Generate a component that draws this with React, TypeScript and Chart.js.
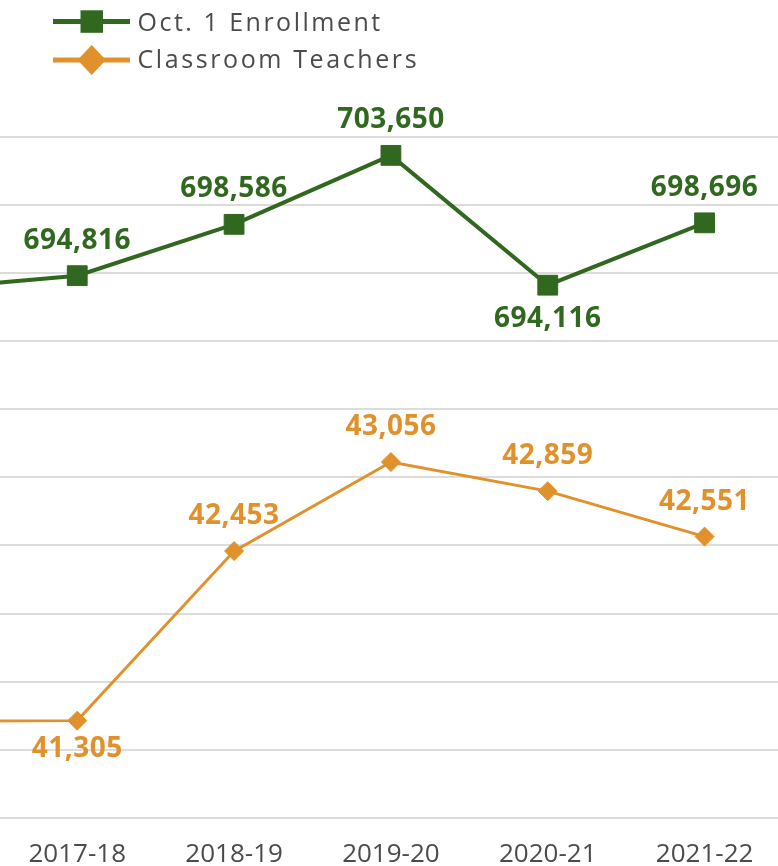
import React, { useEffect, useRef } from 'react';
import { Chart, registerables } from 'chart.js';

Chart.register(...registerables);

// ---- data ----
const categories = ['2016-17', '2017-18', '2018-19', '2019-20', '2020-21', '2021-22'];
const enrollment = [693800, 694816, 698586, 703650, 694116, 698696];
const teachers = [41300, 41305, 42453, 43056, 42859, 42551];
const enrollmentName = 'Oct. 1 Enrollment';
const teachersName = 'Classroom Teachers';
const enrollmentAxis = { min: 655000, max: 705000, step: 5000 };
const teachersAxis = { min: 40647, max: 45257 };
const enrollmentLabelSide = ['above', 'above', 'above', 'above', 'below', 'above'];
const teachersLabelSide = ['below', 'below', 'above', 'above', 'above', 'above'];

// ---- style ----
const GREEN = '#31681f';
const ORANGE = '#e0912b';
const TEXT = '#4b4b4b';
const GRID = '#dcdcdc';
const FONT = "'Open Sans', 'Noto Sans', sans-serif";

const fmt = (v: number) => v.toLocaleString('en-US');

const valueLabels = {
  id: 'valueLabels',
  afterDatasetsDraw(chart: any) {
    const ctx = chart.ctx;
    const area = chart.chartArea;
    ctx.save();
    ctx.font = `700 28px ${FONT}`;
    try { (ctx as any).letterSpacing = '0.5px'; } catch (e) {}
    ctx.textAlign = 'center';
    ctx.textBaseline = 'middle';
    chart.data.datasets.forEach((ds: any, di: number) => {
      const meta = chart.getDatasetMeta(di);
      meta.data.forEach((pt: any, i: number) => {
        if (pt.x < area.left || pt.x > area.right) return;
        const side = ds.labelSide[i];
        const dy = side === 'above' ? -35 : ds.belowOffset;
        ctx.fillStyle = ds.borderColor;
        ctx.fillText(fmt(ds.data[i]), pt.x, pt.y + dy);
      });
    });
    ctx.restore();
  },
};

function Legend() {
  return (
    <svg width={778} height={80} style={{ position: 'absolute', left: 0, top: 0 }}>
      <line x1={53} y1={21.5} x2={130} y2={21.5} stroke={GREEN} strokeWidth={5} />
      <rect x={80.5} y={10.3} width={22.5} height={22.5} fill={GREEN} />
      <text x={137.5} y={31} fontFamily={FONT} fontSize={25} letterSpacing={2.5} fill={TEXT}>
        {enrollmentName}
      </text>
      <line x1={53} y1={60} x2={130} y2={60} stroke={ORANGE} strokeWidth={5} />
      <polygon points="77.5,60 91.7,45 105.9,60 91.7,75" fill={ORANGE} />
      <text x={137.5} y={68} fontFamily={FONT} fontSize={25} letterSpacing={2.6} fill={TEXT}>
        {teachersName}
      </text>
    </svg>
  );
}

export default function App() {
  const ref = useRef<HTMLCanvasElement>(null);

  useEffect(() => {
    if (!ref.current) return;
    const chart = new Chart(ref.current, {
      type: 'line',
      data: {
        labels: categories,
        datasets: [
          {
            label: enrollmentName,
            data: enrollment,
            yAxisID: 'y',
            borderColor: GREEN,
            backgroundColor: GREEN,
            borderWidth: 4,
            pointStyle: 'rect',
            pointRadius: 14,
            pointBorderWidth: 1,
            pointBackgroundColor: GREEN,
            pointBorderColor: GREEN,
            tension: 0,
            labelSide: enrollmentLabelSide,
            belowOffset: 34,
          } as any,
          {
            label: teachersName,
            data: teachers,
            yAxisID: 'y1',
            borderColor: ORANGE,
            backgroundColor: ORANGE,
            borderWidth: 3,
            pointStyle: 'rectRot',
            pointRadius: 9.5,
            pointBorderWidth: 1,
            pointBackgroundColor: ORANGE,
            pointBorderColor: ORANGE,
            tension: 0,
            labelSide: teachersLabelSide,
            belowOffset: 28,
          } as any,
        ],
      },
      options: {
        animation: false,
        responsive: true,
        maintainAspectRatio: false,
        layout: { autoPadding: false, padding: { top: 137, left: 0, right: 0, bottom: 0 } },
        plugins: {
          legend: { display: false },
          tooltip: { enabled: false },
        },
        scales: {
          x: {
            offset: true,
            grid: { display: false, offset: true },
            border: { display: false },
            ticks: {
              color: TEXT,
              font: { family: FONT, size: 26 },
              padding: 13,
              maxRotation: 0,
              minRotation: 0,
              autoSkip: false,
            },
          },
          y: {
            position: 'left',
            min: enrollmentAxis.min,
            max: enrollmentAxis.max,
            ticks: { display: false, stepSize: enrollmentAxis.step },
            grid: { color: GRID, lineWidth: 2, drawTicks: false },
            border: { display: false },
          },
          y1: {
            position: 'right',
            display: false,
            min: teachersAxis.min,
            max: teachersAxis.max,
          },
        },
      },
      plugins: [valueLabels],
    });
    return () => chart.destroy();
  }, []);

  return (
    <div
      style={{
        position: 'absolute',
        left: 0,
        top: 0,
        width: 778,
        height: 866,
        overflow: 'hidden',
        background: '#ffffff',
      }}
    >
      <div style={{ position: 'absolute', left: -158, top: 0, width: 941, height: 883 }}>
        <canvas ref={ref} />
      </div>
      <Legend />
    </div>
  );
}
